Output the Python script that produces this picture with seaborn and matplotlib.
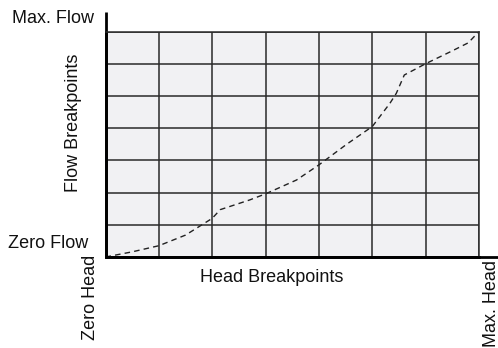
import matplotlib
matplotlib.use("Agg")
import matplotlib.pyplot as plt
import seaborn as sns
import pandas as pd

# breakpoint grid (7 x 7 cells) and the head/flow curve
head_ticks = [0, 1, 2, 3, 4, 5, 6, 7]
flow_ticks = [0, 1, 2, 3, 4, 5, 6, 7]
head = [0, 0.5, 1, 1.5, 2, 2.15, 2.7, 3, 3.58, 4, 4.52, 5, 5.33, 5.45, 5.6, 6, 6.5, 6.8, 7]
flow = [0, 0.16, 0.35, 0.68, 1.2, 1.47, 1.77, 1.96, 2.39, 2.86, 3.5, 4.05, 4.77, 5.08, 5.65, 6.0, 6.4, 6.65, 7]

sns.set_theme(style="white")
plt.rcParams['font.family'] = ['Liberation Sans', 'DejaVu Sans']

fig = plt.figure(figsize=(4.98, 3.48), dpi=100)
ax = fig.add_axes([105.5 / 498, 1 - 257 / 348, 373.5 / 498, 225.5 / 348])
ax.set_facecolor('#f1f1f3')

df = pd.DataFrame({'head': head, 'flow': flow})
sns.lineplot(data=df, x='head', y='flow', ax=ax, color='#222222', lw=1.0,
             linestyle=(0, (4, 3)), sort=False, estimator=None)

ax.set_xlim(head_ticks[0], head_ticks[-1])
ax.set_ylim(flow_ticks[0], flow_ticks[-1])
ax.set_xticks(head_ticks)
ax.set_yticks(flow_ticks)
ax.set_xticklabels([])
ax.set_yticklabels([])
ax.tick_params(length=0)
ax.grid(True, color='#2a2a2a', lw=1.1)
ax.set_xlabel('')
ax.set_ylabel('')

for s in ['top', 'right']:
    ax.spines[s].set_color('#2a2a2a')
    ax.spines[s].set_linewidth(1.1)
for s in ['left', 'bottom']:
    ax.spines[s].set_color('black')
    ax.spines[s].set_linewidth(2)

# extended axis lines
ax.plot([0, 0], [0, (257 - 12) / 225.5], transform=ax.transAxes, color='black',
        lw=2, clip_on=False, solid_capstyle='butt')
ax.plot([0, (498 - 105.5) / 373.5], [0, 0], transform=ax.transAxes, color='black',
        lw=2, clip_on=False, solid_capstyle='butt')

fs = 13
tc = '#111111'
fig.text(94 / 498, 1 - 23 / 348, 'Max. Flow', ha='right', va='baseline', fontsize=fs, color=tc)
fig.text(88 / 498, 1 - 248 / 348, 'Zero Flow', ha='right', va='baseline', fontsize=fs, color=tc)
fig.text(74 / 498, 1 - 122.5 / 348, 'Flow Breakpoints', rotation=90, ha='center',
         va='center', fontsize=fs, color=tc)
fig.text(90 / 498, 1 - 255 / 348, 'Zero Head', rotation=90, ha='center', va='top',
         fontsize=fs, color=tc)
fig.text(272 / 498, 1 - 282 / 348, 'Head Breakpoints', ha='center', va='baseline',
         fontsize=fs, color=tc)
fig.text(491 / 498, 1 - 260 / 348, 'Max. Head', rotation=90, ha='center', va='top',
         fontsize=fs, color=tc)

fig.savefig('out.png', dpi=100)
